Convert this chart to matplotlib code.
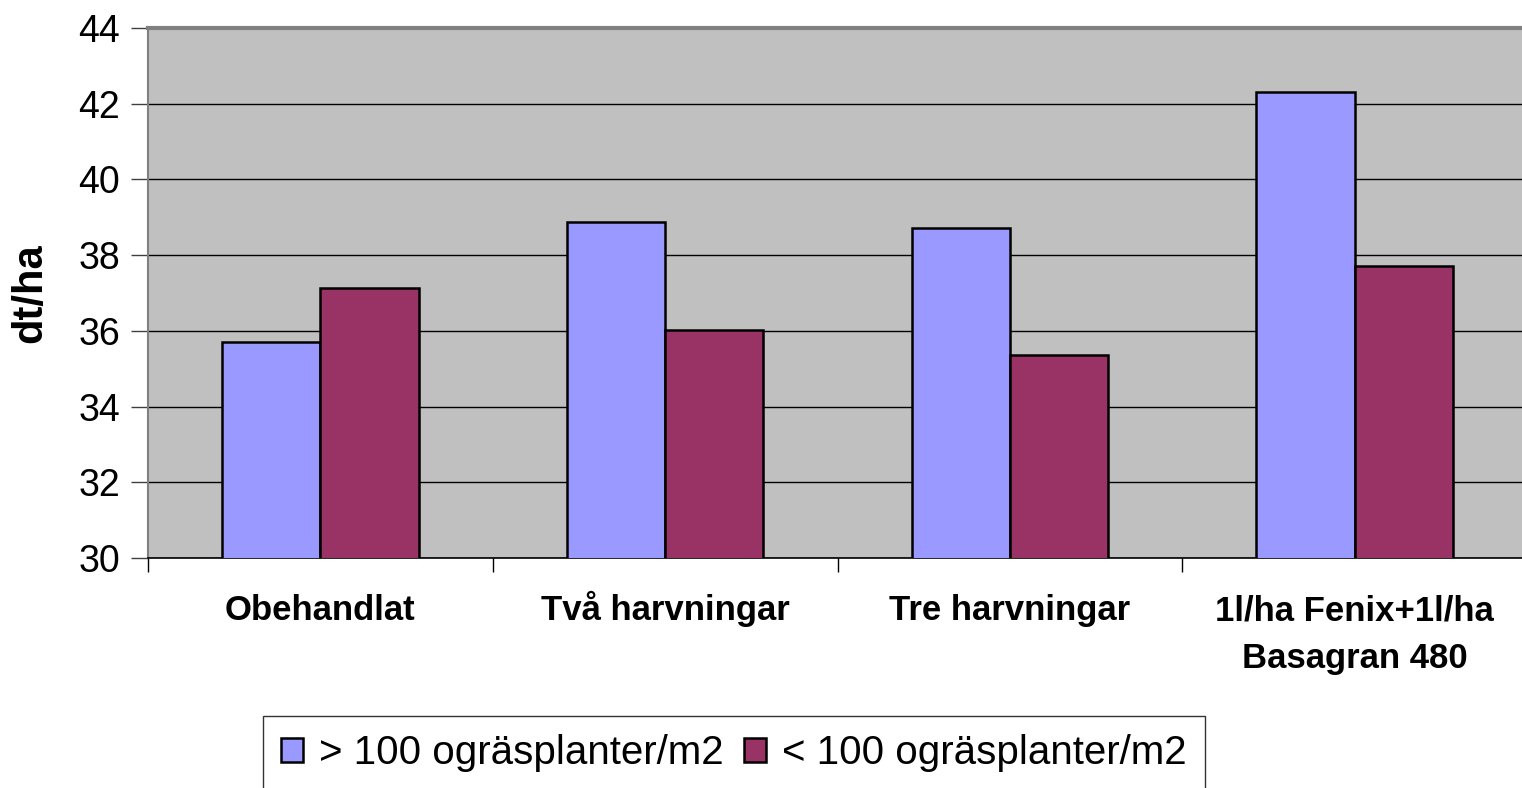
import matplotlib.pyplot as plt
import numpy as np

plt.rcParams['font.family'] = ['Liberation Sans', 'DejaVu Sans']

categories = ["Obehandlat", "Två harvningar", "Tre harvningar", "1l/ha Fenix+1l/ha\nBasagran 480"]
over_100 = [35.7, 38.87, 38.72, 42.31]
under_100 = [37.13, 36.02, 35.36, 37.71]
series_names = ["> 100 ogräsplanter/m2", "< 100 ogräsplanter/m2"]
yticks = [30, 32, 34, 36, 38, 40, 42, 44]

fig = plt.figure(figsize=(15.22, 7.88), dpi=100)
ax = fig.add_axes([148/1522, 230/788, 1379/1522, 530/788])
ax.set_facecolor("#C0C0C0")

x = np.arange(len(categories))
w = 0.285
b1 = ax.bar(x - w/2, over_100, w, color="#9999FF", edgecolor="black", linewidth=1.8,
            label=series_names[0], zorder=3)
b2 = ax.bar(x + w/2, under_100, w, color="#993366", edgecolor="black", linewidth=1.8,
            label=series_names[1], zorder=3)

ax.set_ylim(30, 44)
ax.set_xlim(-0.5, len(categories) - 0.5)
ax.set_yticks(yticks)
ax.set_yticklabels([str(t) for t in yticks], fontsize=27)
ax.yaxis.grid(True, color="black", linewidth=1.0, zorder=1)
ax.set_axisbelow(True)

ax.set_xticks(np.arange(len(categories) + 1) - 0.5)
ax.set_xticklabels([])
ax.tick_params(axis='x', direction='out', length=10, width=1, color="black")
ax.tick_params(axis='y', direction='out', length=12, width=1, color="#404040", pad=8)

# each line placed on its own baseline so the å does not push one lower
line_y = [-0.117, -0.2075]
for i, c in enumerate(categories):
    for j, line in enumerate(c.split("\n")):
        ax.text(i, line_y[j], line, transform=ax.get_xaxis_transform(), ha="center",
                va="baseline", fontsize=25, fontweight="bold")

ax.set_ylabel("dt/ha", fontsize=30, fontweight="bold")
ax.yaxis.label.set_va("center")
ax.yaxis.set_label_coords(-0.0856, 0.5)

ax.spines['top'].set_color("#808080")
ax.spines['top'].set_linewidth(3)
ax.spines['left'].set_color("#808080")
ax.spines['left'].set_linewidth(1.5)
ax.spines['bottom'].set_color("black")
ax.spines['bottom'].set_linewidth(1.2)
ax.spines['right'].set_visible(False)

leg = fig.legend(handles=[b1, b2], loc="upper center", bbox_to_anchor=(734/1522, 1 - 716/788),
                 ncol=2, fontsize=29, frameon=True, fancybox=False, edgecolor="black",
                 handlelength=0.55, handleheight=0.55, handletextpad=0.4, columnspacing=0.5,
                 borderpad=0.45, borderaxespad=0)
leg.get_frame().set_linewidth(1.0)

fig.savefig("out.png", dpi=100)
